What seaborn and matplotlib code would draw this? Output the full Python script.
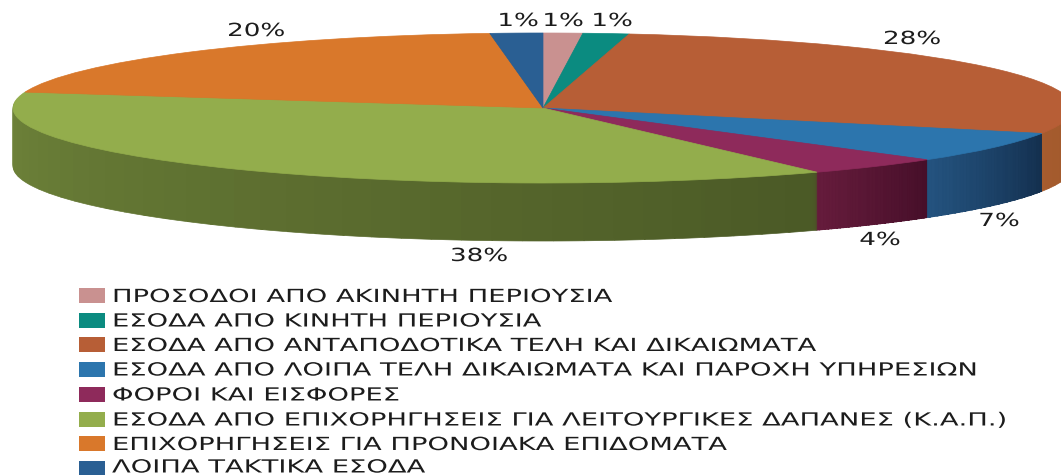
import numpy as np
import seaborn as sns
import matplotlib
matplotlib.use("Agg")
import matplotlib.pyplot as plt
from matplotlib.colors import to_rgb
from matplotlib.patheffects import AbstractPathEffect
from matplotlib.transforms import Affine2D

sns.set_theme(style="white")
plt.rcParams['font.family'] = ['DejaVu Sans']

categories = ["ΠΡΟΣΟΔΟΙ ΑΠΟ ΑΚΙΝΗΤΗ ΠΕΡΙΟΥΣΙΑ",
              "ΕΣΟΔΑ ΑΠΟ ΚΙΝΗΤΗ ΠΕΡΙΟΥΣΙΑ",
              "ΕΣΟΔΑ ΑΠΟ ΑΝΤΑΠΟΔΟΤΙΚΑ ΤΕΛΗ ΚΑΙ ΔΙΚΑΙΩΜΑΤΑ",
              "ΕΣΟΔΑ ΑΠΟ ΛΟΙΠΑ ΤΕΛΗ ΔΙΚΑΙΩΜΑΤΑ ΚΑΙ ΠΑΡΟΧΗ ΥΠΗΡΕΣΙΩΝ",
              "ΦΟΡΟΙ ΚΑΙ ΕΙΣΦΟΡΕΣ",
              "ΕΣΟΔΑ ΑΠΟ ΕΠΙΧΟΡΗΓΗΣΕΙΣ ΓΙΑ ΛΕΙΤΟΥΡΓΙΚΕΣ ΔΑΠΑΝΕΣ (Κ.Α.Π.)",
              "ΕΠΙΧΟΡΗΓΗΣΕΙΣ ΓΙΑ ΠΡΟΝΟΙΑΚΑ ΕΠΙΔΟΜΑΤΑ",
              "ΛΟΙΠΑ ΤΑΚΤΙΚΑ ΕΣΟΔΑ"]
values = [1.2, 1.4, 27.9, 6.6, 4.25, 37.05, 20.0, 1.6]
pct_labels = ["1%", "1%", "28%", "7%", "4%", "38%", "20%", "1%"]
colors = ["#c99190", "#0b8b80", "#b75e36", "#2c75ad", "#8e2a5b", "#93ad4c", "#d9782b", "#2a5f93"]
wall_start = ["#9c6f6c", "#0b6a61", "#a65c2e", "#24537f", "#661c3c", "#71863b", "#a85d1c", "#1c4568"]
wall_end = ["#9c6f6c", "#0b6a61", "#7f4420", "#14304f", "#470f2a", "#4b5a26", "#a85d1c", "#1c4568"]

W, H = 1061, 475
fig = plt.figure(figsize=(W / 100, H / 100), dpi=100)
ax = fig.add_axes([0, 0, 1, 1])

cx, cy, rx, ry, depth = 543, 108, 530, 75, 58


class StretchX(AbstractPathEffect):
    """Widens a text about a pixel column: the reference's lettering is extended."""

    def __init__(self, x0, factor):
        super().__init__()
        self.x0, self.factor = x0, factor

    def draw_path(self, renderer, gc, tpath, affine, rgbFace=None):
        stretch = Affine2D().translate(-self.x0, 0).scale(self.factor, 1).translate(self.x0, 0)
        renderer.draw_path(gc, tpath, affine + stretch, rgbFace)


def draw_layer(vals, cols, d):
    wedges, _ = ax.pie(vals, colors=cols, startangle=90, counterclock=False,
                       radius=1, center=(0, 0), frame=False)
    tr = Affine2D().scale(rx, -ry).translate(cx, cy + d) + ax.transData
    for w in wedges:
        w.set_transform(tr)
        w.set_edgecolor(w.get_facecolor())
        w.set_linewidth(0.5)


# side wall: every slice is split into shaded steps; it runs right-to-left on the
# front of the disc, so the shade goes from wall_end to wall_start
steps = 40
wall_vals, wall_cols = [], []
for v, a, b in zip(values, wall_start, wall_end):
    a, b = np.array(to_rgb(a)), np.array(to_rgb(b))
    for i in range(steps):
        t = i / (steps - 1)
        wall_vals.append(v / steps)
        wall_cols.append(tuple(b + (a - b) * t))

for d in range(depth, 0, -1):
    draw_layer(wall_vals, wall_cols, d)
draw_layer(values, colors, 0)

ax.set_aspect("auto")
ax.set_xlim(0, W)
ax.set_ylim(H, 0)
ax.axis("off")

label_pos = [(563, 21), (612, 21), (912, 39), (999, 221), (880, 240), (479, 256), (256, 31), (518, 21)]
for t, (x, y) in zip(pct_labels, label_pos):
    txt = ax.text(x, y, t, ha="center", va="center", fontsize=13, color="#1c1c1c")
    txt.set_path_effects([StretchX(x, 1.45)])

ys = [295.5, 320, 344.5, 369, 394, 419, 443.5, 468]
for name, col, y in zip(categories, colors, ys):
    ax.barh(y, width=26, left=79, height=15, color=col, linewidth=0)
    txt = ax.text(112, min(y + 1.5, 467.5), name, ha="left", va="center", fontsize=13, color="#1c1c1c")
    txt.set_path_effects([StretchX(112, 1.515)])

ax.set_xlim(0, W)
ax.set_ylim(H, 0)
fig.savefig("out.png", dpi=100)
